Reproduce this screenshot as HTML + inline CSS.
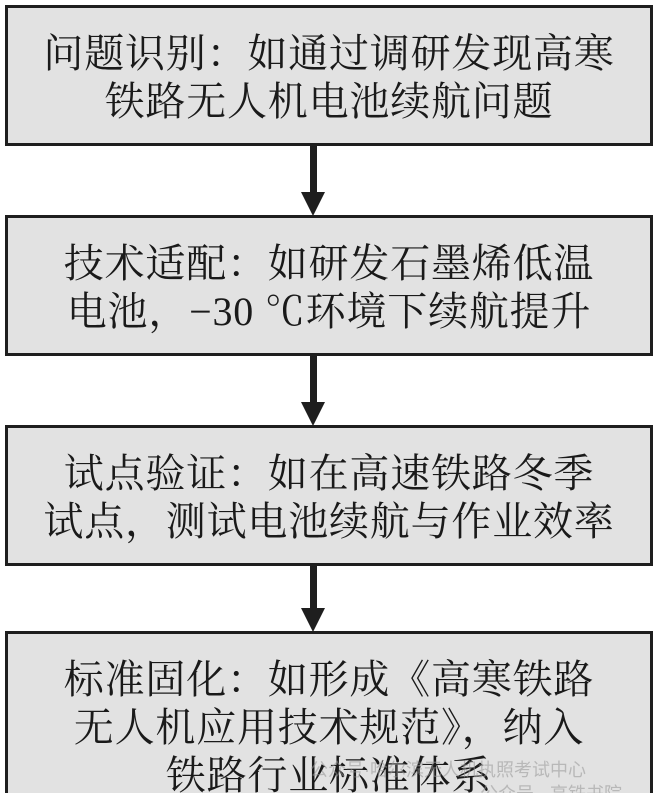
<!DOCTYPE html>
<html><head><meta charset="utf-8"><style>
html,body{margin:0;padding:0;background:#fff;width:660px;height:793px;overflow:hidden;position:relative}
.b{position:absolute;left:5px;width:648px;background:#e2e2e2;border:3px solid #1e1e1e;box-sizing:border-box;
font-family:"Liberation Serif","Noto Serif CJK SC",serif;font-size:40px;letter-spacing:0.8px;color:#1a1a1a;text-align:center;line-height:48px}
.s{position:absolute;left:310px;width:7px;background:#1e1e1e}
.h{position:absolute;left:301px;width:0;height:0;border-left:12px solid transparent;border-right:12px solid transparent;border-top:24px solid #1e1e1e}
.w{position:absolute;font-family:"Liberation Sans","Noto Sans CJK SC",sans-serif;color:rgba(150,150,150,.55);font-size:18px}
</style></head><body>
<div class="b" style="top:5px;height:141px;padding-top:22px">问题识别：如通过调研发现高寒<br>铁路无人机电池续航问题</div>
<div class="s" style="top:146px;height:48px"></div><div class="h" style="top:192px"></div>
<div class="b" style="top:215px;height:141px;padding-top:22px">技术适配：如研发石墨烯低温<br>电池，−30 ℃环境下续航提升</div>
<div class="s" style="top:356px;height:48px"></div><div class="h" style="top:402px"></div>
<div class="b" style="top:425px;height:141px;padding-top:22px">试点验证：如在高速铁路冬季<br>试点，测试电池续航与作业效率</div>
<div class="s" style="top:566px;height:44px"></div><div class="h" style="top:608px"></div>
<div class="b" style="top:631px;height:180px;padding-top:22px">标准固化：如形成《高寒铁路<br>无人机应用技术规范》，纳入<br>铁路行业标准体系</div>
<div class="w" style="left:310px;top:756px">公众号·哈尔滨无人机执照考试中心</div>
<div class="w" style="left:480px;top:780px">公众号 · 高铁书院</div>
</body></html>
